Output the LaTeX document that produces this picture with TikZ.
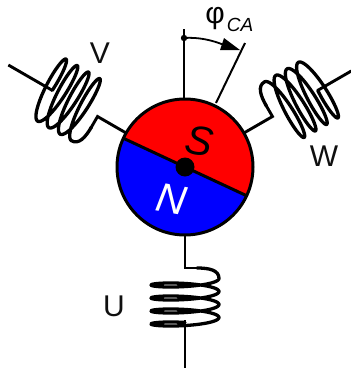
\documentclass[tikz,border=0pt]{standalone}
\usepackage{fontspec}
\setmainfont{Liberation Sans}
\definecolor{rotorred}{RGB}{255,0,0}
\definecolor{rotorblue}{RGB}{0,0,255}
\definecolor{labelgrey}{RGB}{15,15,15}
\tikzset{
  wire/.style={line width=2.9pt,line join=miter},
  coilwire/.style={line width=3.3pt,line join=round,line cap=round},
  refline/.style={line width=2pt},
  coillabel/.style={font=\fontsize{30}{30}\selectfont,text=labelgrey,inner sep=0pt},
  polelabel/.style={font=\itshape\fontsize{41}{41}\selectfont,inner sep=0pt,rotate=-10},
}
% #1 rotation, #2 name, #3 outer length, #4 helix minor radius
\newcommand{\statorcoil}[4]{%
  \begin{scope}[shift={(185,167)},rotate=#1]
    \coordinate (#2in) at (0,68);
    \coordinate (#2a) at (0,101);
    \coordinate (#2b) at (0,153);
    \coordinate (#2out) at (0,#3);
    \draw[wire] (#2in) -- (#2a) -- (14,101);
    \draw[coilwire] (12,101) .. controls (24,101) and (34,103) .. (34,111.5)
      -- plot[smooth,samples=170,domain=0:1350,variable=\t]
      ({34*cos(\t)},{111.5+\t/360*13+#4*sin(\t)});
    \draw[wire] (#2b) -- (#2out);
  \end{scope}
}
\begin{document}
\begin{tikzpicture}[x=1pt,y=-1pt]
  \useasboundingbox (0,0) rectangle (351,370);
  % reference lines
  \coordinate (pivot) at (184,38);
  \coordinate (reftop) at (184,29);
  \coordinate (refbot) at (184,100);
  \coordinate (rotbot) at (216,103);
  \coordinate (rottop) at (245,43);
  \coordinate (tip) at (240,50);
  \draw[refline] (reftop) -- (refbot);
  \draw[refline] (rotbot) -- (rottop);
  \fill (pivot) circle (3.2);
  \draw[line width=1.8pt] (pivot) .. controls (198,37) and (212,40) .. (224,45);
  \fill (tip) -- (220,50) -- (224,38) -- cycle;
  % coils
  \statorcoil{0}{u}{201}{4.8}
  \statorcoil{120}{w}{192}{7}
  \statorcoil{-120}{v}{204}{7}
  % rotor
  \coordinate (c) at (185,167);
  \fill[rotorblue] (c) circle (68);
  \begin{scope}
    \clip (c) circle (68);
    \fill[rotorred,rotate around={-25:(c)}] (100,87) rectangle (270,167);
  \end{scope}
  \draw[line width=3pt] (c) circle (68);
  \draw[line width=3pt,rotate around={-25:(c)}] (117,167) -- (253,167);
  \fill (c) circle (9.5);
  % labels
  \node[polelabel] (s) at (199,141) {S};
  \node[polelabel,text=white] (n) at (172,199) {N};
  \node[coillabel] (v) at (100,53) {V};
  \node[coillabel] (w) at (324,156) {W};
  \node[coillabel] (u) at (114,306) {U};
  \node[inner sep=0pt,font=\fontsize{30}{30}\selectfont] (phi) at (215,19) {φ};
  \node[inner sep=0pt,font=\itshape\fontsize{19}{19}\selectfont] (ca) at (240,25) {CA};
\end{tikzpicture}
\end{document}
